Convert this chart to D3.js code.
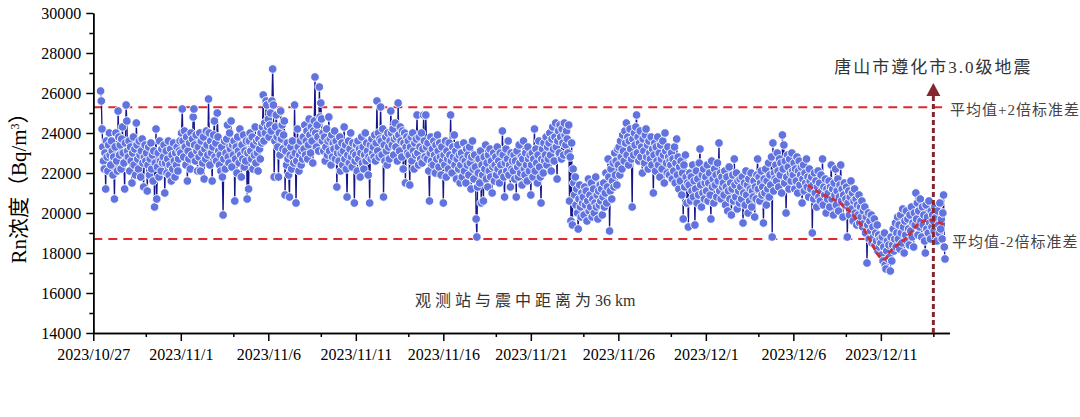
<!DOCTYPE html>
<html><head><meta charset="utf-8">
<script src="https://cdn.jsdelivr.net/npm/d3@7"></script>
<style>body{margin:0;background:#fff;}svg{display:block;}</style>
</head><body>
<svg id="chart" width="1080" height="417"></svg>
<script>
// ---------------- DATA ----------------
// hourly Rn concentration, units of 100 Bq/m3, first reading 2023-10-27 10:00
const startTime = "2023-10-27 10:00";
const wk1 = [
 261,256,242,233,226,222,230,212,236,228,221,234,240,229,
 224,236,231,219,228,207,233,240,226,221,251,238,229,234,222,237,243,230,225,212,235,254,246,231,
 228,236,221,233,226,215,230,238,224,232,219,245,234,227,222,236,229,218,231,237,225,213,228,234,
 226,230,211,224,233,219,227,235,222,229,216,231,203,225,242,207,223,230,218,236,226,221,232,225,
 228,234,210,225,231,220,227,236,219,224,232,216,229,222,235,226,218,230,224,233,221,227,231,236,
 230,240,252,236,228,241,233,224,238,216,231,227,235,222,240,229,237,248,252,234,226,239,231,221,
 233,228,240,221,236,230,225,238,217,232,227,241,234,229,257,240,224,236,230,216,233,239,246,228];
const wk2 = [
 235,226,250,238,231,224,229,221,233,218,199,227,236,222,230,237,244,228,225,240,232,246,223,234,
 229,236,206,227,233,220,238,231,225,242,229,218,234,227,239,223,231,226,236,207,230,212,236,240,
 231,227,238,222,234,229,243,225,236,230,221,237,232,227,240,235,243,259,236,245,240,256,254,243,
 247,238,244,250,241,256,272,254,218,236,243,249,238,233,218,240,229,251,237,244,232,239,246,209,
 231,224,235,227,219,208,229,233,222,236,228,225,254,230,205,226,242,233,221,229,236,224,231,227,
 238,232,244,229,236,241,227,234,247,239,230,243,236,225,241,246,268,240,233,244,238,231,263,248,
 255,247,236,240,231,238,226,233,242,229,236,248,231,237,224,239,228,235,232,241,227,236,213,230];
const wk3 = [
 233,226,238,221,230,235,224,231,243,227,234,222,208,229,236,225,232,240,228,223,235,230,205,226,
 229,234,221,236,227,232,218,230,238,225,233,222,229,240,226,235,231,219,228,205,234,227,237,230,
 233,228,239,226,235,256,231,240,228,237,253,236,229,242,208,234,226,238,231,224,240,233,227,236,
 251,240,234,242,229,237,245,233,238,226,255,239,231,243,236,228,241,222,235,240,215,233,238,230,
 236,229,214,233,238,226,240,231,222,235,229,237,249,230,224,238,233,227,240,225,232,249,236,228,
 249,233,227,235,221,206,230,238,226,232,224,236,229,220,234,227,239,231,223,235,228,219,233,226,
 205,229,224,236,218,231,227,222,235,229,249,226,220,233,228,239,224,231,217,227,234,222,229,215];
const wk4 = [
 224,230,218,227,235,221,226,215,232,224,229,219,233,225,212,228,236,222,217,229,223,197,188,213,
 220,227,215,231,205,224,219,206,228,222,234,217,225,213,229,221,232,218,226,210,223,230,216,224,
 228,219,233,222,226,215,230,224,220,241,229,218,208,225,232,221,227,236,219,224,213,230,222,226,
 221,229,217,226,208,231,223,218,234,225,220,228,214,227,236,222,219,230,224,216,233,227,221,229,
 209,224,230,218,227,242,221,232,225,215,229,236,223,218,205,227,232,220,235,226,229,238,224,233,
 227,235,240,229,221,237,243,232,226,238,245,233,217,236,241,230,244,238,227,242,235,229,245,239,
 234,241,237,230,244,206,228,196,235,194,222,215,209,218,204,212,200,192,207,214,203,198,210,205];
const wk5 = [
 208,199,213,204,211,196,206,217,201,209,203,215,198,207,212,200,205,218,203,209,197,211,204,214,
 206,212,199,208,215,203,210,220,205,213,227,218,191,211,222,207,216,225,213,230,219,226,214,232,
 224,233,219,236,228,222,239,231,226,241,235,245,229,238,224,236,242,232,227,203,237,229,240,234,
 243,249,230,238,226,235,241,228,233,220,237,231,225,239,242,228,234,222,236,230,227,238,224,232,
 210,229,235,221,233,226,238,224,230,218,234,227,222,236,229,215,240,231,225,220,233,228,219,226,
 224,230,217,227,221,233,215,225,237,219,228,212,223,216,226,209,220,197,224,213,229,218,205,215,
 193,214,220,206,218,211,224,208,216,194,212,221,205,217,209,225,232,214,203,219,210,222,207,215];
const wk6 = [
 218,211,224,206,215,220,209,197,226,213,217,205,222,214,219,208,225,216,235,211,220,207,218,213,
 215,209,221,204,213,218,201,211,223,207,215,199,212,219,206,227,214,208,220,202,216,211,205,217,
 213,207,218,195,210,215,204,221,209,214,200,217,206,212,220,203,211,208,216,198,213,207,219,227,
 212,218,206,215,221,209,213,195,217,210,222,204,216,212,225,208,219,214,228,188,235,211,220,217,
 224,216,230,221,213,227,219,225,210,239,222,234,215,226,200,218,229,223,212,227,220,216,230,221,
 219,225,212,222,216,228,210,221,226,214,219,223,205,217,224,211,220,215,227,213,218,208,222,216,
 212,218,190,214,207,220,210,216,203,213,221,208,215,206,219,211,227,204,213,209,217,200,212,207];
const wk7 = [
 210,216,203,213,224,207,212,199,215,209,222,204,211,217,201,208,214,224,206,212,198,209,215,204,
 207,213,188,205,211,199,208,216,202,210,196,206,212,200,207,194,204,199,209,195,203,198,206,193,
 201,195,203,190,198,175,194,200,187,196,191,199,185,193,188,197,184,190,186,194,181,189,183,187,
 185,179,188,176,183,190,174,172,181,186,177,184,178,171,188,176,184,192,181,187,195,183,190,198,
 187,194,182,199,190,185,202,193,180,196,189,201,186,197,192,184,199,191,203,188,195,183,200,194,
 210,197,205,189,201,193,207,196,188,203,194,199,186,180,204,192,198,190,206,195,187,201,193,199,
 196,191,203,188,198,186,201,194,190,205,192,197,187,200,209,183,177];

// smoothed trend before the earthquake (Bq/m3)
const trendTimes  = ["2023-12-06 20:00","2023-12-07 12:00","2023-12-08 16:00","2023-12-09 19:00","2023-12-10 09:00","2023-12-10 23:00","2023-12-11 06:00","2023-12-11 12:00","2023-12-12 12:00","2023-12-13 05:00","2023-12-13 19:00","2023-12-14 16:00"];
const trendValues = [21400,21000,20500,19500,18650,17800,17700,18050,18800,19500,19650,19400];

const meanPlus2Sd  = 25290;
const meanMinus2Sd = 18700;
const quakeTime = "2023-12-14 00:00";
const quakeLabel = "唐山市遵化市3.0级地震";
const distLabelCn = "观测站与震中距离为";
const distLabelNum = "36 km";
const plusLabel = "平均值+2倍标准差";
const minusLabel = "平均值-2倍标准差";

const xDomain = ["2023-10-27 00:00", "2023-12-14 22:00"];
const xMajorTicks = ["2023-10-27","2023-11-01","2023-11-06","2023-11-11","2023-11-16","2023-11-21","2023-11-26","2023-12-01","2023-12-06","2023-12-11"];
const xMinorTicks = ["2023-10-30","2023-11-04","2023-11-09","2023-11-14","2023-11-19","2023-11-24","2023-11-29","2023-12-04","2023-12-09","2023-12-14"];
const yMajorTicks = [14000,16000,18000,20000,22000,24000,26000,28000,30000];
const yMinorTicks = [15000,17000,19000,21000,23000,25000,27000,29000];

// ---------------- CHART ----------------
const parseT = d3.timeParse("%Y-%m-%d %H:%M");
const parseD = d3.timeParse("%Y-%m-%d");
const svg = d3.select("#chart");
const L = 93.3, R = 949.4, T = 13, B = 333;

const x = d3.scaleTime().domain(xDomain.map(parseT)).range([L, R]);
const y = d3.scaleLinear().domain([14000, 30000]).range([B, T]);

const raw = [].concat(wk1, wk2, wk3, wk4, wk5, wk6, wk7);
const t0 = parseT(startTime);
const data = raw.map((v, i) => ({t: d3.timeHour.offset(t0, i), v: v * 100}));

const serif = "'Liberation Serif','Times New Roman',serif";
const cjk = "'Liberation Serif','Noto Sans CJK SC',serif";

// reference lines
const lineEnd = parseT("2023-12-14 12:00");
[meanPlus2Sd, meanMinus2Sd].forEach(v => {
  svg.append("line").attr("x1", x.range()[0]).attr("x2", x(lineEnd))
    .attr("y1", y(v)).attr("y2", y(v))
    .attr("stroke", "#dc2a2e").attr("stroke-width", 2).attr("stroke-dasharray", "9,6");
});

// series line
svg.append("path").datum(data)
  .attr("fill", "none").attr("stroke", "#16168a").attr("stroke-width", 1.3)
  .attr("d", d3.line().x(d => x(d.t)).y(d => y(d.v)));

// symbols
svg.append("g").selectAll("circle").data(data).join("circle")
  .attr("cx", d => x(d.t)).attr("cy", d => y(d.v)).attr("r", 4.3)
  .attr("fill", "#6173df").attr("stroke", "#ffffff").attr("stroke-width", 0.9);

// trend
const trend = trendTimes.map((t, i) => ({t: parseT(t), v: trendValues[i]}));
svg.append("path").datum(trend)
  .attr("fill", "none").attr("stroke", "#c9303c").attr("stroke-width", 3)
  .attr("stroke-dasharray", "6,3")
  .attr("d", d3.line().curve(d3.curveCatmullRom).x(d => x(d.t)).y(d => y(d.v)));

// axes
const fmt = d3.timeFormat("%Y/%-m/%-d");
svg.append("g").attr("transform", `translate(0,${B})`)
  .call(d3.axisBottom(x).tickValues(xMajorTicks.map(parseD)).tickFormat(fmt)
    .tickSize(8).tickPadding(8).tickSizeOuter(0));
svg.append("g").attr("transform", `translate(0,${B})`)
  .call(d3.axisBottom(x).tickValues(xMinorTicks.map(parseD)).tickFormat("")
    .tickSize(4).tickSizeOuter(0));
svg.append("g").attr("transform", `translate(${L},0)`)
  .call(d3.axisLeft(y).tickValues(yMajorTicks).tickFormat(d3.format("d"))
    .tickSize(7).tickPadding(5).tickSizeOuter(0));
svg.append("g").attr("transform", `translate(${L},0)`)
  .call(d3.axisLeft(y).tickValues(yMinorTicks).tickFormat("")
    .tickSize(4).tickSizeOuter(0));
svg.selectAll(".domain, .tick line").attr("stroke", "#000").attr("stroke-width", 1.5);
svg.selectAll(".tick text").attr("font-family", serif).attr("font-size", 16).attr("fill", "#000");

// earthquake marker
const qx = x(parseT(quakeTime));
svg.append("line").attr("x1", qx).attr("x2", qx).attr("y1", B).attr("y2", 95)
  .attr("stroke", "#86262e").attr("stroke-width", 3).attr("stroke-dasharray", "5,3");
svg.append("path").attr("d", `M${qx},83 L${qx-7},96 L${qx+7},96 Z`).attr("fill", "#86262e");

// texts
svg.append("text").attr("x", qx).attr("y", 73).attr("text-anchor", "middle")
  .attr("font-family", cjk).attr("font-size", 17).attr("letter-spacing", 2).attr("fill", "#333")
  .text(quakeLabel);
svg.append("text").attr("x", 950).attr("y", 115)
  .attr("font-family", cjk).attr("font-size", 15).attr("letter-spacing", 1).attr("fill", "#444")
  .text(plusLabel);
svg.append("text").attr("x", 952).attr("y", 247)
  .attr("font-family", cjk).attr("font-size", 15).attr("letter-spacing", 1).attr("fill", "#444")
  .text(minusLabel);
const dt = svg.append("text").attr("x", 415).attr("y", 306)
  .attr("font-family", cjk).attr("font-size", 16).attr("fill", "#333");
dt.append("tspan").attr("letter-spacing", 4).text(distLabelCn);
dt.append("tspan").attr("letter-spacing", 0).text(distLabelNum);

// y label
const yl = svg.append("text").attr("transform", "translate(26,183) rotate(-90)")
  .attr("text-anchor", "middle").attr("font-family", cjk).attr("font-size", 21).attr("fill", "#000");
yl.append("tspan").text("Rn浓度（Bq/m");
yl.append("tspan").attr("baseline-shift", "super").attr("font-size", 12).text("3");
yl.append("tspan").text("）");
</script>
</body></html>
